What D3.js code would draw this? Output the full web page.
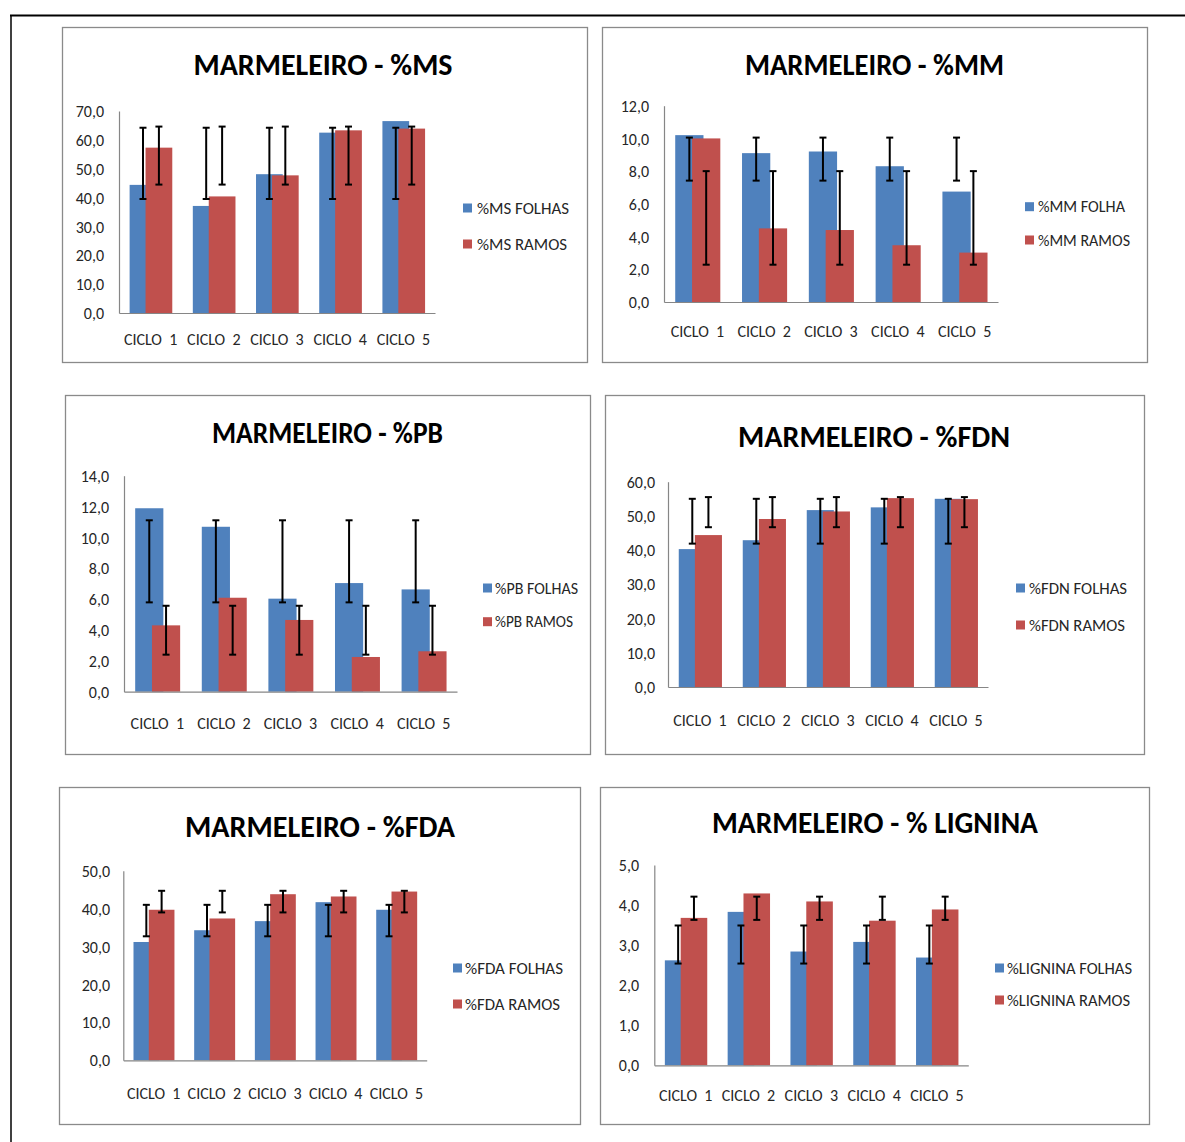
<!DOCTYPE html>
<html>
<head>
<meta charset="utf-8">
<script src="https://cdn.jsdelivr.net/npm/d3@7"></script>
<style>
  html, body { margin: 0; padding: 0; background: #fff; }
  svg { display: block; }
  text { font-family: Carlito, Lato, "Open Sans", sans-serif; }
</style>
</head>
<body>
<svg id="chart" width="1185" height="1142"></svg>
<script>
// ---------- DATA ----------
const categories = ["CICLO  1", "CICLO  2", "CICLO  3", "CICLO  4", "CICLO  5"];

const msFolhas = [44.4, 37.1, 48.1, 62.5, 66.5];
const msRamos = [57.3, 40.4, 47.7, 63.3, 63.9];
const msFolhasErrLow = [39.5, 39.5, 39.5, 39.5, 39.5];
const msFolhasErrHigh = [64.2, 64.2, 64.2, 64.2, 64.2];
const msRamosErrLow = [44.5, 44.5, 44.5, 44.5, 44.5];
const msRamosErrHigh = [64.6, 64.6, 64.6, 64.6, 64.6];

const mmFolha = [10.2, 9.1, 9.2, 8.3, 6.75];
const mmRamos = [10.0, 4.5, 4.4, 3.47, 3.02];
const mmFolhaErrLow = [7.42, 7.42, 7.42, 7.42, 7.42];
const mmFolhaErrHigh = [10.05, 10.05, 10.05, 10.05, 10.05];
const mmRamosErrLow = [2.28, 2.28, 2.28, 2.28, 2.28];
const mmRamosErrHigh = [8.0, 8.0, 8.0, 8.0, 8.0];

const pbFolhas = [11.89, 10.69, 6.03, 7.04, 6.63];
const pbRamos = [4.30, 6.09, 4.65, 2.25, 2.62];
const pbFolhasErrLow = [5.79, 5.79, 5.79, 5.79, 5.79];
const pbFolhasErrHigh = [11.11, 11.11, 11.11, 11.11, 11.11];
const pbRamosErrLow = [2.40, 2.40, 2.40, 2.40, 2.40];
const pbRamosErrHigh = [5.57, 5.57, 5.57, 5.57, 5.57];

const fdnFolhas = [40.3, 42.9, 51.7, 52.5, 55.0];
const fdnRamos = [44.4, 49.1, 51.3, 55.2, 54.9];
const fdnFolhasErrLow = [41.9, 41.9, 41.9, 41.9, 41.9];
const fdnFolhasErrHigh = [55.0, 55.0, 55.0, 55.0, 55.0];
const fdnRamosErrLow = [46.7, 46.7, 46.7, 46.7, 46.7];
const fdnRamosErrHigh = [55.5, 55.5, 55.5, 55.5, 55.5];

const fdaFolhas = [31.2, 34.3, 36.7, 41.7, 39.7];
const fdaRamos = [39.7, 37.4, 43.8, 43.2, 44.5];
const fdaFolhasErrLow = [32.7, 32.7, 32.7, 32.7, 32.7];
const fdaFolhasErrHigh = [41.0, 41.0, 41.0, 41.0, 41.0];
const fdaRamosErrLow = [39.0, 39.0, 39.0, 39.0, 39.0];
const fdaRamosErrHigh = [44.7, 44.7, 44.7, 44.7, 44.7];

const ligFolhas = [2.62, 3.83, 2.84, 3.08, 2.69];
const ligRamos = [3.68, 4.29, 4.09, 3.61, 3.89];
const ligFolhasErrLow = [2.54, 2.54, 2.54, 2.54, 2.54];
const ligFolhasErrHigh = [3.49, 3.49, 3.49, 3.49, 3.49];
const ligRamosErrLow = [3.63, 3.63, 3.63, 3.63, 3.63];
const ligRamosErrHigh = [4.21, 4.21, 4.21, 4.21, 4.21];

const titles = ["MARMELEIRO - %MS", "MARMELEIRO - %MM", "MARMELEIRO - %PB",
                "MARMELEIRO - %FDN", "MARMELEIRO - %FDA", "MARMELEIRO - % LIGNINA"];
const legendLabels = [
  ["%MS FOLHAS", "%MS RAMOS"],
  ["%MM FOLHA", "%MM RAMOS"],
  ["%PB FOLHAS", "%PB RAMOS"],
  ["%FDN FOLHAS", "%FDN RAMOS"],
  ["%FDA FOLHAS", "%FDA RAMOS"],
  ["%LIGNINA FOLHAS", "%LIGNINA RAMOS"]
];
const yMaxes = [70, 12, 14, 60, 50, 5];
const yTickSteps = [10, 2, 2, 10, 10, 1];

const seriesData = [
  [msFolhas, msRamos, msFolhasErrLow, msFolhasErrHigh, msRamosErrLow, msRamosErrHigh],
  [mmFolha, mmRamos, mmFolhaErrLow, mmFolhaErrHigh, mmRamosErrLow, mmRamosErrHigh],
  [pbFolhas, pbRamos, pbFolhasErrLow, pbFolhasErrHigh, pbRamosErrLow, pbRamosErrHigh],
  [fdnFolhas, fdnRamos, fdnFolhasErrLow, fdnFolhasErrHigh, fdnRamosErrLow, fdnRamosErrHigh],
  [fdaFolhas, fdaRamos, fdaFolhasErrLow, fdaFolhasErrHigh, fdaRamosErrLow, fdaRamosErrHigh],
  [ligFolhas, ligRamos, ligFolhasErrLow, ligFolhasErrHigh, ligRamosErrLow, ligRamosErrHigh]
];

// ---------- LAYOUT ----------
const layouts = [
  { box: [62, 27, 525, 335], x0: 119, x1: 435, yTop: 111, yBase: 313, tickRight: 104, xLabelY: 339,
    title: { cx: 323, y: 75, w: 259 }, legend: { sx: 463, y1: 208, y2: 244, tx: 477, w: [92, 90] } },
  { box: [602, 27, 545, 335], x0: 664, x1: 998, yTop: 105.7, yBase: 302, tickRight: 649, xLabelY: 331.5,
    title: { cx: 874.5, y: 75, w: 259 }, legend: { sx: 1025, y1: 206.7, y2: 240, tx: 1038, w: [87, 92] } },
  { box: [65, 395, 525, 359], x0: 124, x1: 457, yTop: 475.7, yBase: 691.7, tickRight: 109, xLabelY: 723,
    title: { cx: 327.5, y: 443, w: 231 }, legend: { sx: 483, y1: 588, y2: 621.7, tx: 495, w: [83, 78] } },
  { box: [605, 395, 539, 359], x0: 668, x1: 988, yTop: 481.7, yBase: 687, tickRight: 655, xLabelY: 720,
    title: { cx: 874, y: 447, w: 272 }, legend: { sx: 1016, y1: 588, y2: 625, tx: 1029, w: [98, 96] } },
  { box: [59, 787, 521, 337], x0: 123.3, x1: 426.7, yTop: 870.7, yBase: 1060.3, tickRight: 110, xLabelY: 1093,
    title: { cx: 320, y: 837, w: 270 }, legend: { sx: 453, y1: 968, y2: 1004, tx: 465, w: [98, 95] } },
  { box: [600, 787, 549, 337], x0: 654.3, x1: 968.3, yTop: 865, yBase: 1065.3, tickRight: 639, xLabelY: 1095,
    title: { cx: 875, y: 833, w: 326 }, legend: { sx: 995, y1: 968, y2: 1000, tx: 1007, w: [125, 123] } }
];

const BLUE = "#4F81BD", RED = "#C0504D", AXIS = "#868686";
const blueStart = 0.168, redStart = 0.42, barW = 0.423;
const LABEL_SIZE = 16;

const svg = d3.select("#chart");

// outer frame
svg.append("line").attr("x1", 10).attr("x2", 1185).attr("y1", 15.5).attr("y2", 15.5)
  .attr("stroke", "#000").attr("stroke-width", 2);
svg.append("line").attr("x1", 11).attr("x2", 11).attr("y1", 15).attr("y2", 1142)
  .attr("stroke", "#000").attr("stroke-width", 1.5);

layouts.forEach((L, i) => {
  const [folhas, ramos, fLow, fHigh, rLow, rHigh] = seriesData[i];
  const g = svg.append("g");

  // panel border
  g.append("rect").attr("x", L.box[0] + 0.5).attr("y", L.box[1] + 0.5)
    .attr("width", L.box[2]).attr("height", L.box[3])
    .attr("fill", "#fff").attr("stroke", "#8a8a8a").attr("stroke-width", 1.3);

  const x = d3.scaleBand().domain(categories).range([L.x0, L.x1]).padding(0);
  const y = d3.scaleLinear().domain([0, yMaxes[i]]).range([L.yBase, L.yTop]);
  const bw = x.bandwidth();

  // bars: blue first, red on top
  g.selectAll(".bf").data(folhas).join("rect")
    .attr("x", (d, j) => x(categories[j]) + blueStart * bw)
    .attr("width", barW * bw)
    .attr("y", d => y(d)).attr("height", d => y(0) - y(d))
    .attr("fill", BLUE);
  g.selectAll(".br").data(ramos).join("rect")
    .attr("x", (d, j) => x(categories[j]) + redStart * bw)
    .attr("width", barW * bw)
    .attr("y", d => y(d)).attr("height", d => y(0) - y(d))
    .attr("fill", RED);

  // error bars
  function errBars(low, high, start) {
    const eg = g.append("g").attr("stroke", "#000").attr("stroke-width", 2);
    low.forEach((lo, j) => {
      const cx = x(categories[j]) + (start + barW / 2) * bw;
      eg.append("line").attr("x1", cx).attr("x2", cx).attr("y1", y(lo)).attr("y2", y(high[j]));
      eg.append("line").attr("x1", cx - 3.5).attr("x2", cx + 3.5).attr("y1", y(lo)).attr("y2", y(lo));
      eg.append("line").attr("x1", cx - 3.5).attr("x2", cx + 3.5).attr("y1", y(high[j])).attr("y2", y(high[j]));
    });
  }
  errBars(fLow, fHigh, blueStart);
  errBars(rLow, rHigh, redStart);

  // y axis
  const ticks = d3.range(0, yMaxes[i] + yTickSteps[i] / 2, yTickSteps[i]);
  const yAxis = d3.axisLeft(y).tickValues(ticks).tickSize(0).tickSizeOuter(0)
    .tickPadding(L.x0 - L.tickRight)
    .tickFormat(d => d.toFixed(1).replace(".", ","));
  const ya = g.append("g").attr("transform", `translate(${L.x0},0)`).call(yAxis);
  ya.select(".domain").attr("stroke", AXIS).attr("stroke-width", 1.2);
  ya.selectAll("text").attr("font-size", LABEL_SIZE).attr("fill", "#262626")
    .attr("font-family", "Carlito, Lato, sans-serif").attr("dy", "0.35em");

  // x axis
  const xAxis = d3.axisBottom(x).tickSize(0).tickSizeOuter(0).tickPadding(0);
  const xa = g.append("g").attr("transform", `translate(0,${L.yBase})`).call(xAxis);
  xa.select(".domain").attr("stroke", AXIS).attr("stroke-width", 1.2);
  xa.selectAll("text").attr("font-size", LABEL_SIZE).attr("fill", "#262626")
    .attr("font-family", "Carlito, Lato, sans-serif")
    .attr("y", L.xLabelY - L.yBase).attr("dy", "0.35em")
    .style("white-space", "pre");

  // title
  g.append("text").attr("x", L.title.cx).attr("y", L.title.y)
    .attr("text-anchor", "middle").attr("font-weight", "bold").attr("font-size", 30)
    .attr("fill", "#000")
    .attr("textLength", L.title.w).attr("lengthAdjust", "spacingAndGlyphs")
    .text(titles[i]);

  // legend
  const lc = [BLUE, RED];
  [L.legend.y1, L.legend.y2].forEach((ly, k) => {
    g.append("rect").attr("x", L.legend.sx).attr("y", ly - 4.5).attr("width", 9).attr("height", 9)
      .attr("fill", lc[k]);
    g.append("text").attr("x", L.legend.tx).attr("y", ly).attr("dy", "0.35em")
      .attr("font-size", 16).attr("fill", "#262626")
      .attr("textLength", L.legend.w[k]).attr("lengthAdjust", "spacingAndGlyphs")
      .text(legendLabels[i][k]);
  });
});
</script>
</body>
</html>
